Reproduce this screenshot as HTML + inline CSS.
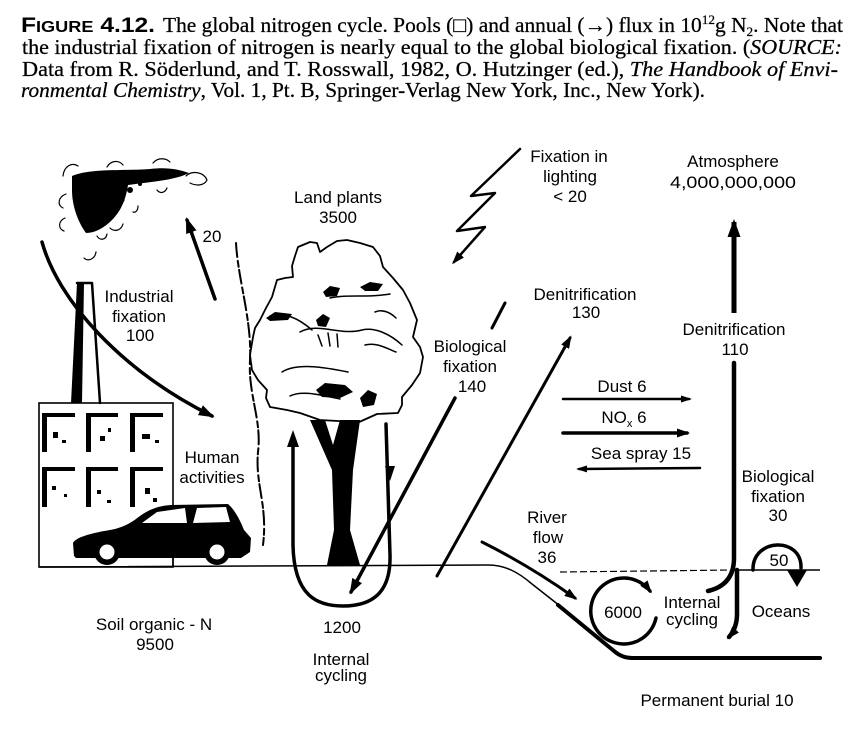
<!DOCTYPE html>
<html>
<head>
<meta charset="utf-8">
<style>
  html, body { margin: 0; padding: 0; background: #fff; }
  svg { display: block; }
  .cap { font-family: "Liberation Serif", "DejaVu Serif", serif; font-size: 21px; fill: #000; stroke: #000; stroke-width: 0.25; }
  .lb { font-family: "Liberation Sans", "DejaVu Sans", sans-serif; font-size: 17px; fill: #000; text-anchor: middle; }
  .ln { fill: none; stroke: #000; stroke-linecap: round; stroke-linejoin: round; }
</style>
</head>
<body>
<svg width="849" height="746" viewBox="0 0 849 746" xmlns="http://www.w3.org/2000/svg">
  <defs>
    <marker id="ahXL" viewBox="0 0 18 13" refX="15" refY="6.5" markerWidth="18" markerHeight="13" orient="auto" markerUnits="userSpaceOnUse"><path d="M0,0 L18,6.5 L0,13 Z" fill="#000"/></marker>
    <marker id="ahL" viewBox="0 0 16 11" refX="13" refY="5.5" markerWidth="16" markerHeight="11" orient="auto" markerUnits="userSpaceOnUse"><path d="M0,0 L16,5.5 L0,11 Z" fill="#000"/></marker>
    <marker id="ahM" viewBox="0 0 13 9" refX="10" refY="4.5" markerWidth="13" markerHeight="9" orient="auto" markerUnits="userSpaceOnUse"><path d="M0,0 L13,4.5 L0,9 Z" fill="#000"/></marker>
    <marker id="ahS" viewBox="0 0 11 7" refX="8" refY="3.5" markerWidth="11" markerHeight="7" orient="auto" markerUnits="userSpaceOnUse"><path d="M0,0 L11,3.5 L0,7 Z" fill="#000"/></marker>
  </defs>

  <!-- Caption -->
  <text x="21" y="32" font-family="Liberation Sans, DejaVu Sans, sans-serif" font-weight="bold" font-size="21" textLength="134" lengthAdjust="spacingAndGlyphs">F<tspan font-size="15.5">IGURE</tspan> 4.12.</text>
  <text class="cap" x="163" y="32" textLength="680" lengthAdjust="spacingAndGlyphs">The global nitrogen cycle. Pools (□) and annual (→) flux in 10<tspan dy="-8" style="font-size:13px">12</tspan><tspan dy="8">g N</tspan><tspan dy="4" style="font-size:13px">2</tspan><tspan dy="-4">. Note that</tspan></text>

  <text class="cap" x="22" y="54" textLength="820" lengthAdjust="spacingAndGlyphs">the industrial fixation of nitrogen is nearly equal to the global biological fixation. (<tspan font-style="italic">SOURCE:</tspan></text>

  <text class="cap" x="22" y="76" textLength="816" lengthAdjust="spacingAndGlyphs">Data from R. Söderlund, and T. Rosswall, 1982, O. Hutzinger (ed.), <tspan font-style="italic">The Handbook of Envi-</tspan></text>

  <text class="cap" x="21" y="97" textLength="684" lengthAdjust="spacingAndGlyphs"><tspan font-style="italic">ronmental Chemistry</tspan>, Vol. 1, Pt. B, Springer-Verlag New York, Inc., New York).</text>

  <!-- Smoke cloud -->
  <path d="M72,176 C90,168 125,171 150,169 C166,167 178,169 189,173 C176,180 150,182 128,185 C126,198 122,210 112,220 C104,228 95,233 86,233 C78,222 72,206 72,190 Z" fill="#000"/>
  <g fill="#000">
    <circle cx="130" cy="190" r="3"/><circle cx="122" cy="200" r="2.5"/><circle cx="140" cy="184" r="2"/>
  </g>
  <g class="ln" stroke-width="1.2">
    <path d="M63,176 C64,166 72,162 78,166"/>
    <path d="M107,167 C111,160 119,160 123,165"/>
    <path d="M153,163 C158,157 166,158 170,162"/>
    <path d="M186,176 C192,170 204,172 207,180 C204,186 196,186 190,183"/>
    <path d="M157,190 C160,194 165,193 167,188"/>
    <path d="M133,212 C136,213 138,210 138,206"/>
    <path d="M110,228 C114,232 121,231 123,224"/>
    <path d="M97,236 C100,241 106,240 107,234"/>
    <path d="M84,258 C88,262 95,259 96,252"/>
    <path d="M66,194 C58,197 57,205 63,208"/>
    <path d="M65,218 C58,221 58,229 64,231"/>
  </g>

  <!-- Factory -->
  <rect x="39" y="403" width="134" height="164" fill="#fff" stroke="#000" stroke-width="1.6"/>
  <g fill="#000">
    <rect x="42" y="413" width="33" height="4"/><rect x="42" y="413" width="5" height="39"/>
    <rect x="86" y="413" width="32" height="4"/><rect x="86" y="413" width="5" height="39"/>
    <rect x="130" y="413" width="33" height="4"/><rect x="130" y="413" width="5" height="39"/>
    <rect x="42" y="467" width="33" height="4"/><rect x="42" y="467" width="5" height="40"/>
    <rect x="86" y="467" width="32" height="4"/><rect x="86" y="467" width="5" height="40"/>
    <rect x="130" y="467" width="33" height="4"/><rect x="130" y="467" width="5" height="40"/>
  </g>
  <g fill="#000">
    <rect x="53" y="432" width="5" height="6"/><rect x="62" y="440" width="4" height="3"/>
    <rect x="100" y="436" width="5" height="5"/><rect x="108" y="428" width="3" height="4"/>
    <rect x="142" y="434" width="8" height="5"/><rect x="155" y="440" width="4" height="3"/>
    <rect x="52" y="486" width="4" height="4"/><rect x="64" y="494" width="3" height="3"/>
    <rect x="97" y="490" width="4" height="4"/><rect x="107" y="500" width="4" height="3"/>
    <rect x="145" y="488" width="5" height="6"/><rect x="153" y="498" width="4" height="4"/>
  </g>
  <!-- Chimney -->
  <path d="M77,283 L84,283 L82,403 L71,403 Z" fill="#000"/>
  <path class="ln" d="M77,283 L92,283 L100,403" stroke-width="2.5"/>

  <!-- Car -->
  <path d="M74,556 L73,543 C76,537 92,533 110,530 C121,528 129,524 136,519 C146,511 156,506 171,505 L228,504 C235,510 240,520 244,530 L251,538 L250,552 L241,558 L76,558 Z" fill="#000"/>
  <path d="M142,523 L157,512 L185,508 L187,523 Z" fill="#fff"/>
  <path d="M193,523 L197,508 L226,507 L230,522 Z" fill="#fff"/>
  <circle cx="107" cy="552" r="13" fill="#000"/>
  <circle cx="107" cy="552" r="7.5" fill="#fff"/>
  <circle cx="217" cy="552" r="13" fill="#000"/>
  <circle cx="217" cy="552" r="7.5" fill="#fff"/>
  <line x1="173" y1="540" x2="173" y2="567" stroke="#000" stroke-width="1.5"/>

  <!-- Industrial fixation arrow -->
  <path class="ln" d="M42,242 C58,300 120,370 212,416" stroke-width="3.5" marker-end="url(#ahL)"/>
  <!-- 20 arrow -->
  <path class="ln" d="M215,299 L187,220" stroke-width="3.5" marker-end="url(#ahL)"/>

  <!-- Left wavy edge near tree -->
  <path class="ln" d="M236,243 C238,280 252,320 250,360 C248,395 262,420 258,452 C255,485 268,505 263,545" stroke-width="2" stroke-dasharray="14,4,6,3"/>

  <!-- Tree crown -->
  <path d="M295,256 L298,247 L310,242 L317,243 L320,252 L327,247 L337,241 L347,240 L360,243 L373,247 L380,256 L383,267 L393,278 L403,290 L410,303 L417,320 L413,337 L420,347 L423,357 L420,373 L412,385 L402,397 L402,405 L398,413 L377,414 L357,423 L338,421 L320,420 L300,413 L287,410 L270,407 L266,398 L267,390 L258,380 L252,370 L250,355 L253,337 L255,328 L260,320 L266,308 L272,297 L277,280 L285,278 L293,277 L292,266 Z" fill="#fff" stroke="#000" stroke-width="1.8" stroke-linejoin="round"/>
  <g class="ln" stroke-width="1.5">
    <path d="M270,316 C285,312 298,318 312,330"/>
    <path d="M300,332 C318,322 340,336 362,330 C375,327 390,334 402,345"/>
    <path d="M282,372 C298,362 328,368 348,372"/>
    <path d="M290,396 C302,390 320,395 340,399"/>
    <path d="M330,298 C348,294 368,298 390,294"/>
    <path d="M365,345 C376,342 386,348 396,352"/>
    <path d="M375,312 C382,309 390,312 396,318"/>
    <path d="M318,335 L322,346 M328,333 L330,346 M337,334 L338,347"/>
  </g>
  <g fill="#000">
    <path d="M323,292 L330,286 L340,288 L337,296 L326,297 Z"/>
    <path d="M360,287 L370,282 L383,284 L378,291 L365,291 Z"/>
    <path d="M266,318 L275,312 L292,314 L288,320 L270,321 Z"/>
    <path d="M316,320 L323,314 L330,318 L326,327 L318,326 Z"/>
    <path d="M316,390 L325,383 L345,385 L353,392 L340,398 L322,397 Z"/>
    <path d="M360,398 L368,390 L377,394 L374,405 L363,407 Z"/>
  </g>
  <!-- Trunk -->
  <path d="M310,420 L325,420 L333,445 L340,420 L360,420 L353,470 L350,530 L360,565 L327,565 L334,530 L332,470 Z" fill="#000"/>

  <!-- Land internal cycling loop -->
  <path class="ln" d="M293,444 L293,545 C294,597 318,606 343,606 C373,606 391,592 390,555 L386,424" stroke-width="3.5"/>
  <polygon points="293,430 287,447 299,447" fill="#000"/>
  <polygon points="390,481 385,466 395,466" fill="#000"/>

  <!-- Lightning -->
  <polyline class="ln" points="520,149 471,196 495,193 457,231 485,227 454,262" stroke-width="2.5" marker-end="url(#ahM)"/>

  <!-- Biological fixation 140 -->
  <line class="ln" x1="505" y1="303" x2="492" y2="328" stroke-width="3"/>
  <path class="ln" d="M455,398 L351,592" stroke-width="3.5" marker-end="url(#ahL)"/>

  <!-- Denitrification 130 -->
  <path class="ln" d="M437,576 L570,338" stroke-width="3" marker-end="url(#ahM)"/>

  <!-- Atmosphere arrow -->
  <path d="M734,313 L734,222" stroke="#000" stroke-width="5" fill="none" marker-end="url(#ahXL)"/>
  <!-- Ocean vertical -->
  <path class="ln" d="M734,363 L734,558 Q734,585 708,591" stroke-width="4.5" stroke-linecap="butt"/>
  <path class="ln" d="M737,570 L737,614 Q737,628 729,637" stroke-width="4.5" marker-end="url(#ahM)"/>

  <!-- Dust / NOx / Sea spray -->
  <path class="ln" d="M563,399 L689,399" stroke-width="2.5" marker-end="url(#ahS)"/>
  <path class="ln" d="M563,433 L687,433" stroke-width="3.5" marker-end="url(#ahM)"/>
  <path class="ln" d="M700,468 L579,469" stroke-width="2.5" marker-end="url(#ahS)"/>

  <!-- Ground / sea -->
  <path class="ln" d="M40,567 L488,565 C505,565 518,572 532,584 L560,606" stroke-width="1.5"/>
  <path class="ln" d="M558,605 L614,651 Q622,658 632,658 L820,658" stroke-width="4"/>
  <path d="M560,572 L734,570" stroke="#000" stroke-width="1.2" stroke-dasharray="7,3" fill="none"/>
  <path d="M734,570 L820,570" stroke="#000" stroke-width="1.5" fill="none"/>

  <!-- River flow arrow -->
  <path class="ln" d="M482,542 Q530,566 575,598" stroke-width="3" marker-end="url(#ahM)"/>

  <!-- 50 arc -->
  <path class="ln" d="M753,570 C752,538 802,536 801,568" stroke-width="3.5"/>
  <polygon points="787,570 807,570 797,587" fill="#000"/>

  <!-- 6000 circle -->
  <path class="ln" d="M656,618 A33,33 0 1 1 650,591" stroke-width="3.5" marker-end="url(#ahM)"/>

  <!-- Labels -->
  <text class="lb" x="569" y="162">Fixation in</text>
  <text class="lb" x="570" y="182">lighting</text>
  <text class="lb" x="570" y="202">&lt; 20</text>
  <text class="lb" x="733" y="167">Atmosphere</text>
  <text class="lb" x="733" y="188" textLength="126" lengthAdjust="spacingAndGlyphs">4,000,000,000</text>
  <text class="lb" x="338" y="203">Land plants</text>
  <text class="lb" x="338" y="223">3500</text>
  <text class="lb" x="212" y="242">20</text>
  <text class="lb" x="139" y="302">Industrial</text>
  <text class="lb" x="139" y="322">fixation</text>
  <text class="lb" x="140" y="341">100</text>
  <text class="lb" x="585" y="300">Denitrification</text>
  <text class="lb" x="586" y="318">130</text>
  <text class="lb" x="470" y="352">Biological</text>
  <text class="lb" x="470" y="372">fixation</text>
  <text class="lb" x="472" y="392">140</text>
  <text class="lb" x="734" y="335">Denitrification</text>
  <text class="lb" x="735" y="355">110</text>
  <text class="lb" x="622" y="392">Dust 6</text>
  <text class="lb" x="624" y="423">NO<tspan font-size="11" dy="4">x</tspan><tspan dy="-4"> 6</tspan></text>
  <text class="lb" x="641" y="459">Sea spray 15</text>
  <text class="lb" x="212" y="463">Human</text>
  <text class="lb" x="212" y="483">activities</text>
  <text class="lb" x="778" y="482">Biological</text>
  <text class="lb" x="778" y="502">fixation</text>
  <text class="lb" x="778" y="521">30</text>
  <text class="lb" x="547" y="523">River</text>
  <text class="lb" x="548" y="543">flow</text>
  <text class="lb" x="547" y="563">36</text>
  <text class="lb" x="779" y="566">50</text>
  <text class="lb" x="623" y="618">6000</text>
  <text class="lb" x="692" y="608">Internal</text>
  <text class="lb" x="692" y="625">cycling</text>
  <text class="lb" x="781" y="617">Oceans</text>
  <text class="lb" x="154" y="630">Soil organic - N</text>
  <text class="lb" x="155" y="650">9500</text>
  <text class="lb" x="342" y="633">1200</text>
  <text class="lb" x="341" y="665">Internal</text>
  <text class="lb" x="341" y="681">cycling</text>
  <text class="lb" x="717" y="706">Permanent burial 10</text>
</svg>
</body>
</html>
